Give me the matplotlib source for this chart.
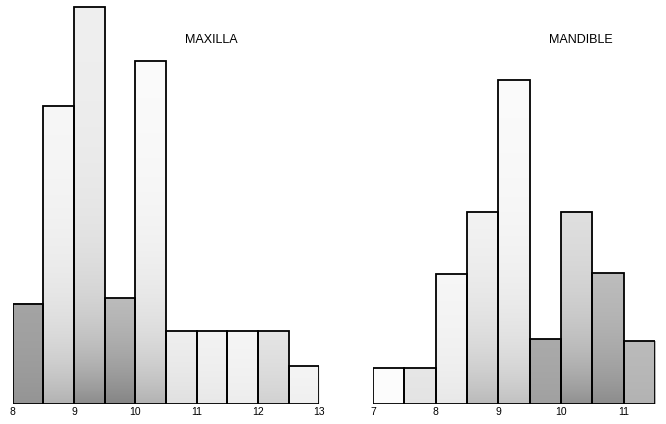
import numpy as np
import matplotlib
matplotlib.use("Agg")
import matplotlib.pyplot as plt

plt.rcParams['font.family'] = ['Liberation Sans', 'DejaVu Sans']

# ---- data ----
max_edges = [8.0, 8.5, 9.0, 9.5, 10.0, 10.5, 11.0, 11.5, 12.0, 12.5, 13.0]
max_freq = [3.1, 9.2, 12.25, 3.27, 10.6, 2.25, 2.25, 2.25, 2.25, 1.17]
max_ticks = [8, 9, 10, 11, 12, 13]

man_edges = [7.0, 7.5, 8.0, 8.5, 9.0, 9.5, 10.0, 10.5, 11.0, 11.5]
man_freq = [1.11, 1.11, 4.01, 5.93, 10.0, 2.0, 5.93, 4.04, 1.94]
man_ticks = [7, 8, 9, 10, 11]

# ---- styles: stipple density (top, bottom) per bar ----
max_shade = [(0.55, 0.7), (0.04, 0.5), (0.1, 0.75), (0.3, 0.8), (0.02, 0.5),
             (0.04, 0.2), (0.03, 0.15), (0.02, 0.12), (0.08, 0.3), (0.02, 0.1)]
man_shade = [(0.0, 0.02), (0.12, 0.18), (0.03, 0.15), (0.04, 0.45), (0.02, 0.4),
             (0.5, 0.62), (0.15, 0.72), (0.35, 0.75), (0.4, 0.5)]

W, H = 666, 424
fig = plt.figure(figsize=(W / 100, H / 100), dpi=100)

ymax = 404 / 32.4


def panel(x0px, x1px, edges, freq, shades, ticks, title, tx):
    ax = fig.add_axes([x0px / W, 20 / H, (x1px - x0px) / W, 404 / H])
    lefts = edges[:-1]
    widths = np.diff(edges)
    bars = ax.bar(lefts, freq, width=widths, align='edge', facecolor='none',
                  edgecolor='black', linewidth=1.3, zorder=3)
    for b, (st, sb) in zip(bars, shades):
        x = b.get_x()
        w = b.get_width()
        h = b.get_height()
        y = np.linspace(h, 0, 200).reshape(-1, 1)
        s = st + (sb - st) * np.exp(-y / 2.6)
        g = 1 - 0.6 * s
        img = np.dstack([g, g, g])
        ax.imshow(img, extent=[x, x + w, 0, h], aspect='auto',
                  interpolation='bilinear', zorder=2, origin='upper')
    ax.set_xlim(edges[0], edges[-1])
    ax.set_ylim(0, ymax)
    for sp in ax.spines.values():
        sp.set_visible(False)
    ax.set_yticks([])
    ax.set_xticks(ticks)
    ax.set_xticklabels([str(t) for t in ticks], fontsize=7.5)
    ax.tick_params(axis='x', length=0, pad=2)
    ax.patch.set_alpha(0)
    fig.text(tx / W, 1 - 40 / H, title, ha='center', va='center', fontsize=9)
    return ax


panel(12.7, 319.3, max_edges, max_freq, max_shade, max_ticks, 'MAXILLA', 211)
panel(373, 655, man_edges, man_freq, man_shade, man_ticks, 'MANDIBLE', 581)

fig.savefig('out.png', dpi=100)
